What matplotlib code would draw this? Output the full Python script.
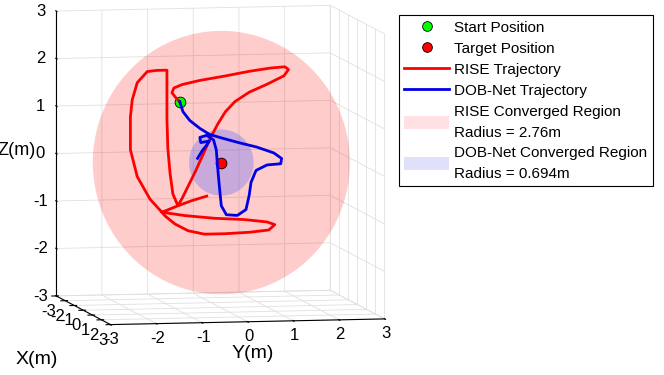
import numpy as np
import matplotlib
matplotlib.use('Agg')
import matplotlib.pyplot as plt
from mpl_toolkits.mplot3d.art3d import Poly3DCollection
from matplotlib.patches import Patch
from matplotlib.lines import Line2D

plt.rcParams['font.family'] = ['Liberation Sans', 'DejaVu Sans']
plt.rcParams['axes.unicode_minus'] = False

# ---------------- data ----------------
start_pos = [0.0, -0.89, 1.35]
target_pos = [0.0, 0.02, 0.05]
rise_radius = 2.76
dob_radius = 0.694

rise_y = [-0.89, -0.97, -1.06, -1.02, -0.84, -0.45, 0.09, 0.63, 1.10, 1.41, 1.49, 1.39,
          1.02, 0.63, 0.32, 0.11, -0.06, -0.22, -0.37, -0.54, -0.71, -0.84, -0.93, -1.28,
          -0.78, -0.13, 0.52, 1.02, 1.19, 1.06, 0.63, 0.09, -0.35, -0.71, -1.00, -1.21,
          -1.28, -1.54, -1.82, -1.97, -1.97, -1.93, -1.82, -1.60, -1.39, -1.17, -1.17,
          -1.17, -1.15, -1.10, -1.04, -0.93, -0.63, -0.30]
rise_z = [1.35, 1.43, 1.54, 1.64, 1.71, 1.79, 1.87, 1.96, 2.02, 2.04, 1.98, 1.85,
          1.68, 1.52, 1.33, 1.12, 0.86, 0.57, 0.25, -0.11, -0.44, -0.69, -0.84, -0.97,
          -1.05, -1.12, -1.16, -1.22, -1.28, -1.39, -1.43, -1.45, -1.45, -1.37, -1.22, -1.05,
          -0.97, -0.69, -0.21, 0.36, 1.05, 1.41, 1.77, 2.00, 2.02, 2.02, 1.62,
          0.99, 0.36, -0.17, -0.59, -0.84, -0.74, -0.65]
rise_x = [0.0] * len(rise_y)

dob_y = [-0.89, -0.82, -0.67, -0.45, -0.24, 0.02, 0.41, 0.80, 1.17, 1.34, 1.32, 1.02,
         0.78, 0.67, 0.63, 0.56, 0.37, 0.13, 0.02, -0.02, -0.06, -0.09, -0.15, -0.30,
         -0.45, -0.43, -0.24, -0.32, -0.39, -0.50]
dob_z = [1.35, 1.14, 0.95, 0.78, 0.65, 0.57, 0.46, 0.36, 0.23, 0.11, 0.00, -0.02,
         -0.13, -0.38, -0.65, -0.95, -1.07, -1.05, -0.86, -0.48, -0.06, 0.32, 0.53, 0.63,
         0.59, 0.48, 0.51, 0.40, 0.32, 0.15]
dob_x = [0.0] * len(dob_y)

axis_ticks = [-3, -2, -1, 0, 1, 2, 3]
legend_labels = ['Start Position', 'Target Position', 'RISE Trajectory', 'DOB-Net Trajectory',
                 'RISE Converged Region\nRadius = 2.76m',
                 'DOB-Net Converged Region\nRadius = 0.694m']

ELEV, AZIM = 6.0, -11.2

# ---------------- figure ----------------
fig = plt.figure(figsize=(6.64, 3.75), dpi=100)
ax = fig.add_subplot(projection='3d', proj_type='ortho', computed_zorder=False)
ax.set_position([0.004, 0.026, 0.64, 1.04])
ax.view_init(elev=ELEV, azim=AZIM)
ax.set_box_aspect((1, 1, 1.025), zoom=1.215)
ax.set_xlim(-3, 3); ax.set_ylim(-3, 3); ax.set_zlim(-3, 3)
# put the z axis on the left vertical edge
ax.zaxis._axinfo['juggled'] = (1, 2, 0)


def silhouette(center, radius, n=120):
    e, a = np.radians(ELEV), np.radians(AZIM)
    u = np.array([-np.sin(a), np.cos(a), 0.0])
    v = np.array([-np.sin(e) * np.cos(a), -np.sin(e) * np.sin(a), np.cos(e)])
    t = np.linspace(0, 2 * np.pi, n)
    c = np.asarray(center)
    return [c + radius * (np.cos(tt) * u + np.sin(tt) * v) for tt in t]


big = Poly3DCollection([silhouette(target_pos, rise_radius)], facecolor=(1, 0, 0, 0.2),
                       edgecolor='none')
ax.add_collection3d(big)
small = Poly3DCollection([silhouette(target_pos, dob_radius)], facecolor=(0.28, 0.36, 1.0, 0.3),
                         edgecolor='none')
ax.add_collection3d(small)

ax.plot(rise_x, rise_y, rise_z, color='red', lw=2)
ax.plot(dob_x, dob_y, dob_z, color=(0, 0, 0.9), lw=2)
ax.scatter([start_pos[0]], [start_pos[1]], [start_pos[2]], s=60, c=[(0, 1, 0)],
           edgecolors='k', linewidths=0.6, depthshade=False)
ax.scatter([target_pos[0]], [target_pos[1]], [target_pos[2]], s=60, c=[(1, 0, 0)],
           edgecolors='k', linewidths=0.6, depthshade=False)

for axis in (ax.xaxis, ax.yaxis, ax.zaxis):
    axis.set_pane_color((1, 1, 1, 0))
    axis._axinfo['grid']['color'] = (0.88, 0.88, 0.88, 1)
    axis._axinfo['grid']['linewidth'] = 0.6
    axis.pane.set_edgecolor((0.85, 0.85, 0.85))
    axis.line.set_color('k')
    axis.line.set_linewidth(0.8)

ax.set_xticks(axis_ticks); ax.set_yticks(axis_ticks); ax.set_zticks(axis_ticks)
ax.tick_params(labelsize=12, pad=0)
ax.yaxis.set_tick_params(pad=-4.5)
ax.xaxis.set_tick_params(pad=-4)
ax.zaxis.set_tick_params(pad=-1)
for tk in ax.zaxis.get_major_ticks():
    tk.label1.set_verticalalignment('center_baseline')
ax.set_xlabel('X(m)', fontsize=14, labelpad=4)
ax.set_ylabel('Y(m)', fontsize=14, labelpad=-6)
ax.set_zlabel('Z(m)', fontsize=13, labelpad=-3.5)

handles = [
    Line2D([], [], ls='none', marker='o', markersize=7, markerfacecolor=(0, 1, 0), markeredgecolor='k', markeredgewidth=0.6),
    Line2D([], [], ls='none', marker='o', markersize=7, markerfacecolor=(1, 0, 0), markeredgecolor='k', markeredgewidth=0.6),
    Line2D([], [], color='red', lw=2),
    Line2D([], [], color=(0, 0, 0.9), lw=2),
    Patch(facecolor=(1, 0.88, 0.89), edgecolor='none'),
    Patch(facecolor=(0.88, 0.88, 0.98), edgecolor='none'),
]
leg = fig.legend(handles, legend_labels, loc='upper left', bbox_to_anchor=(399 / 664, 1 - 15 / 375),
                 bbox_transform=fig.transFigure, fontsize=11, frameon=True, fancybox=False,
                 edgecolor='k', framealpha=1, borderpad=0.33, borderaxespad=0,
                 handlelength=2.95, handletextpad=0.35, labelspacing=0.43, handleheight=0.9)
leg.get_frame().set_linewidth(0.8)
for t in leg.get_texts():
    t.set_linespacing(1.62)

fig.savefig('out.png', dpi=100)
